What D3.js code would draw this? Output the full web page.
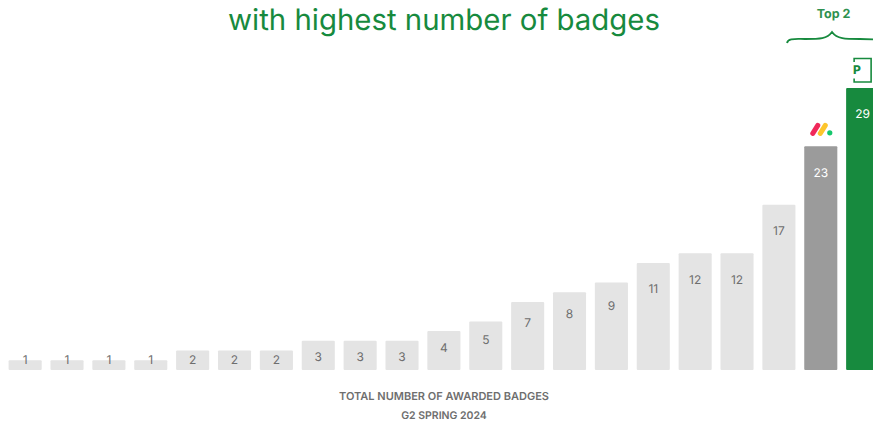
<!DOCTYPE html>
<html>
<head>
<meta charset="utf-8">
<script src="https://cdn.jsdelivr.net/npm/d3@7/dist/d3.min.js"></script>
<style>
html,body{margin:0;padding:0;background:#fff;overflow:hidden}
svg{display:block}
text{font-family:Inter,"Open Sans",sans-serif;text-rendering:geometricPrecision}
</style>
</head>
<body>
<script>
const badgeCounts = [1,1,1,1,2,2,2,3,3,3,4,5,7,8,9,11,12,12,17,23,29];
const vendorIds = d3.range(badgeCounts.length);
const headline = "with highest number of badges";
const axisTitle = "TOTAL NUMBER OF AWARDED BADGES";
const axisSubtitle = "G2 SPRING 2024";
const topGroupLabel = "Top 2";

const W = 873, H = 421;
const GREEN = "#178a3e", MID_GREY = "#9b9b9b", LIGHT_GREY = "#e4e4e4", INK = "#6e6e6e";

const svg = d3.select("body").append("svg").attr("width", W).attr("height", H);

// Band layout: the last bar runs off the right edge of the page
const x = d3.scaleBand().domain(vendorIds).range([8.6, 879.2]).paddingInner(0.21).paddingOuter(0);
const y = d3.scaleLinear().domain([0, 29]).range([370, 88]);

const last = vendorIds.length - 1;
const fillFor = i => i === last ? GREEN : i === last - 1 ? MID_GREY : LIGHT_GREY;

svg.append("g").selectAll("rect").data(badgeCounts).join("rect")
  .attr("x", (d, i) => x(i))
  .attr("y", d => y(d))
  .attr("width", x.bandwidth())
  .attr("height", d => y(0) - y(d))
  .attr("rx", 1)
  .attr("fill", (d, i) => fillFor(i));

// Value labels sit further down the taller bars; short bars share one line
const labelY = d => Math.min(360, y(d) + Math.min(26, 12 + 1.2 * d));
svg.append("g").selectAll("text").data(badgeCounts).join("text")
  .attr("x", (d, i) => x(i) + x.bandwidth() / 2)
  .attr("y", labelY)
  .attr("dy", "0.36em")
  .attr("text-anchor", "middle")
  .attr("font-size", 12)
  .attr("fill", (d, i) => i >= last - 1 ? "#fff" : INK)
  .text(d => d);

svg.append("text").attr("x", 444).attr("y", 30).attr("text-anchor", "middle")
  .attr("font-size", 29.4).attr("font-weight", 400).attr("fill", GREEN).text(headline);

svg.append("text").attr("x", 444).attr("y", 400).attr("text-anchor", "middle")
  .attr("font-size", 11).attr("font-weight", 600).attr("fill", INK).text(axisTitle);
svg.append("text").attr("x", 444).attr("y", 419).attr("text-anchor", "middle")
  .attr("font-size", 10.5).attr("font-weight", 600).attr("fill", INK).text(axisSubtitle);

// Bracket and caption over the two leading bars
svg.append("text").attr("x", 833.5).attr("y", 18).attr("text-anchor", "middle")
  .attr("font-size", 12.5).attr("font-weight", 700).attr("fill", "#2f9150").text(topGroupLabel);
svg.append("path")
  .attr("d", "M787,43 C788,38 795,39 805,39 C820,39 827,39 832,32 C837,39 845,39 860,39 C868,39 872,39 880,40")
  .attr("fill", "none").attr("stroke", GREEN).attr("stroke-width", 1.8);

// monday.com style mark above the grey bar
const mark = svg.append("g")
  .attr("transform", `translate(${x(last - 1) + x.bandwidth() / 2},${y(23) - 17})`);
mark.append("line").attr("x1", -8).attr("y1", 4).attr("x2", -3).attr("y2", -4)
  .attr("stroke", "#f0285a").attr("stroke-width", 5).attr("stroke-linecap", "round");
mark.append("line").attr("x1", -0.5).attr("y1", 4).attr("x2", 4.5).attr("y2", -4)
  .attr("stroke", "#fdc52c").attr("stroke-width", 5).attr("stroke-linecap", "round");
mark.append("circle").attr("cx", 9).attr("cy", 3.5).attr("r", 2.6).attr("fill", "#16c76c");

// Boxed P mark above the green bar
const pMark = svg.append("g").attr("transform", `translate(${x(last)},${y(29)})`);
pMark.append("path")
  .attr("d", "M8,-26 V-29.5 H25 V-6 H8 V-9.5")
  .attr("fill", "none").attr("stroke", GREEN).attr("stroke-width", 1.6);
pMark.append("text").attr("x", 7).attr("y", -14)
  .attr("font-size", 12).attr("font-weight", 800).attr("fill", GREEN).text("P");
</script>
</body>
</html>
